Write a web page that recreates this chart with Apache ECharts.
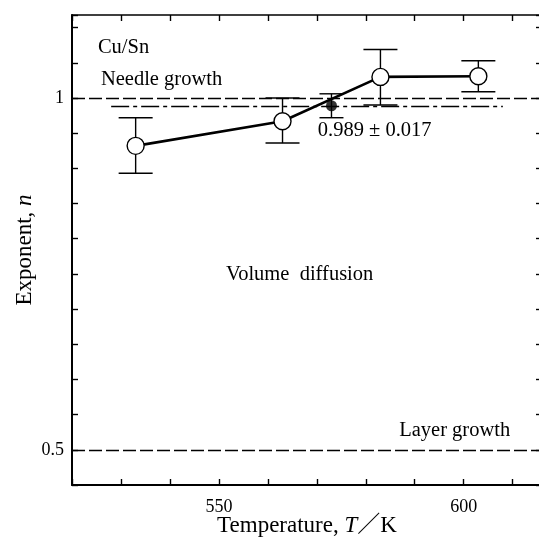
<!DOCTYPE html>
<html>
<head>
<meta charset="utf-8">
<script src="https://cdn.jsdelivr.net/npm/echarts@6/dist/echarts.min.js"></script>
<style>
html,body{margin:0;padding:0;background:#fff;}
#chart{width:539px;height:538px;}
</style>
</head>
<body>
<div id="chart"></div>
<script>
// ---- data ----
const temps = [533, 563, 583, 603];
const nValues = [0.932, 0.967, 1.030, 1.031];
const nLow = [0.893, 0.936, 0.990, 1.009];
const nHigh = [0.972, 1.000, 1.069, 1.053];
const fitTemp = [573];
const fitN = [0.989];
const fitLow = [0.972];
const fitHigh = [1.006];
const refLevels = [1, 0.5];
const fitLineT = [528, 608];
const xTickLabels = [550, 600];
const yTickLabels = [0.5, 1];
const annotations = [
  { text: 'Cu/Sn', t: 525.3, n: 1.057, align: 'left' },
  { text: 'Needle growth', t: 525.9, n: 1.0114, align: 'left' },
  { text: '0.989 ± 0.017', t: 570.2, n: 0.9393, align: 'left' },
  { text: 'Volume  diffusion', t: 566.5, n: 0.734, align: 'center' },
  { text: 'Layer growth', t: 609.5, n: 0.5133, align: 'right' }
];

const FONT = "'Liberation Serif', 'Times New Roman', 'Noto Sans CJK JP', serif";
const chart = echarts.init(document.getElementById('chart'), null, { renderer: 'canvas' });

function near(v, list) { return list.some(t => Math.abs(v - t) < 1e-6); }

function errRender(capHalf) {
  return function (params, api) {
    const x = api.value(0);
    const lo = api.coord([x, api.value(1)]);
    const hi = api.coord([x, api.value(2)]);
    const style = { stroke: '#000', lineWidth: 1.4 };
    return {
      type: 'group',
      children: [
        { type: 'line', shape: { x1: lo[0], y1: lo[1], x2: hi[0], y2: hi[1] }, style },
        { type: 'line', shape: { x1: lo[0] - capHalf, y1: lo[1], x2: lo[0] + capHalf, y2: lo[1] }, style },
        { type: 'line', shape: { x1: hi[0] - capHalf, y1: hi[1], x2: hi[0] + capHalf, y2: hi[1] }, style }
      ]
    };
  };
}

const xCommon = {
  type: 'value', min: 520, max: 616, interval: 10,
  splitLine: { show: false },
  axisLine: { show: true, onZero: false, lineStyle: { color: '#000', width: 2 } },
  axisTick: { show: true, inside: true, length: 6, lineStyle: { color: '#000', width: 1.4 } }
};
const yCommon = {
  type: 'value', min: 0.45, max: 1.118, interval: 0.05,
  splitLine: { show: false },
  axisLine: { show: true, onZero: false, lineStyle: { color: '#000', width: 2 } },
  axisTick: { show: true, inside: true, length: 6, lineStyle: { color: '#000', width: 1.4 } }
};

const option = {
  backgroundColor: '#fff',
  animation: false,
  grid: { left: 72, top: 15, width: 470, height: 470, containLabel: false, outerBoundsMode: 'none' },
  xAxis: [
    Object.assign({}, xCommon, {
      position: 'bottom',
      name: 'Temperature, {i|T}／K',
      nameLocation: 'middle', nameGap: 41, nameMoveOverlap: false,
      nameTextStyle: { fontFamily: FONT, fontSize: 23, color: '#000', verticalAlign: 'middle',
        rich: { i: { fontFamily: FONT, fontSize: 23, fontStyle: 'italic', color: '#000' } } },
      axisLabel: { show: true, margin: 13, fontFamily: FONT, fontSize: 18, color: '#000',
        formatter: v => near(v, xTickLabels) ? String(Math.round(v)) : '' }
    }),
    Object.assign({}, xCommon, { position: 'top', axisLabel: { show: false },
      axisLine: { show: true, onZero: false, lineStyle: { color: '#000', width: 1.6 } } })
  ],
  yAxis: [
    Object.assign({}, yCommon, {
      position: 'left',
      name: 'Exponent, {i|n}',
      nameLocation: 'middle', nameGap: 47, nameRotate: 90, nameMoveOverlap: false,
      nameTextStyle: { fontFamily: FONT, fontSize: 23, color: '#000', verticalAlign: 'middle',
        rich: { i: { fontFamily: FONT, fontSize: 23, fontStyle: 'italic', color: '#000' } } },
      axisLabel: { show: true, margin: 8, fontFamily: FONT, fontSize: 18, color: '#000',
        formatter: v => near(v, [1]) ? '1' : (near(v, [0.5]) ? '0.5' : '') }
    }),
    Object.assign({}, yCommon, { position: 'right', axisLabel: { show: false } })
  ],
  series: [
    {
      type: 'line', name: 'refs', data: [], xAxisIndex: 0, yAxisIndex: 0, z: 1,
      markLine: {
        silent: true, symbol: 'none', label: { show: false },
        lineStyle: { color: '#000', width: 1.3, type: [13, 4] },
        data: refLevels.map(v => ({ yAxis: v })).concat([
          [ { coord: [fitLineT[0], fitN[0]], lineStyle: { type: [18, 4, 4, 4], width: 1.3, color: '#000' } },
            { coord: [fitLineT[1], fitN[0]] } ]
        ])
      }
    },
    {
      type: 'custom', name: 'err', z: 2,
      renderItem: errRender(17),
      data: temps.map((t, i) => [t, nLow[i], nHigh[i]])
    },
    {
      type: 'custom', name: 'errFit', z: 2,
      renderItem: errRender(12),
      data: fitTemp.map((t, i) => [t, fitLow[i], fitHigh[i]])
    },
    {
      type: 'line', name: 'n', z: 5,
      data: temps.map((t, i) => [t, nValues[i]]),
      symbol: 'circle', symbolSize: 17, showSymbol: true,
      lineStyle: { color: '#000', width: 2.6 },
      itemStyle: { color: '#fff', borderColor: '#000', borderWidth: 1.4 }
    },
    {
      type: 'scatter', name: 'fit', z: 6,
      data: fitTemp.map((t, i) => [t, fitN[i]]),
      symbol: 'circle', symbolSize: 11,
      itemStyle: { color: '#000' }
    }
  ]
};
chart.setOption(option);

const graphics = annotations.map(a => {
  const p = chart.convertToPixel({ gridIndex: 0 }, [a.t, a.n]);
  return {
    type: 'text', x: p[0], y: p[1], z: 10,
    style: { text: a.text, fontFamily: FONT, fontSize: 20.5, fill: '#000',
      textAlign: a.align, textVerticalAlign: 'bottom', verticalAlign: 'alphabetic' }
  };
});
chart.setOption({ graphic: graphics });
</script>
</body>
</html>
